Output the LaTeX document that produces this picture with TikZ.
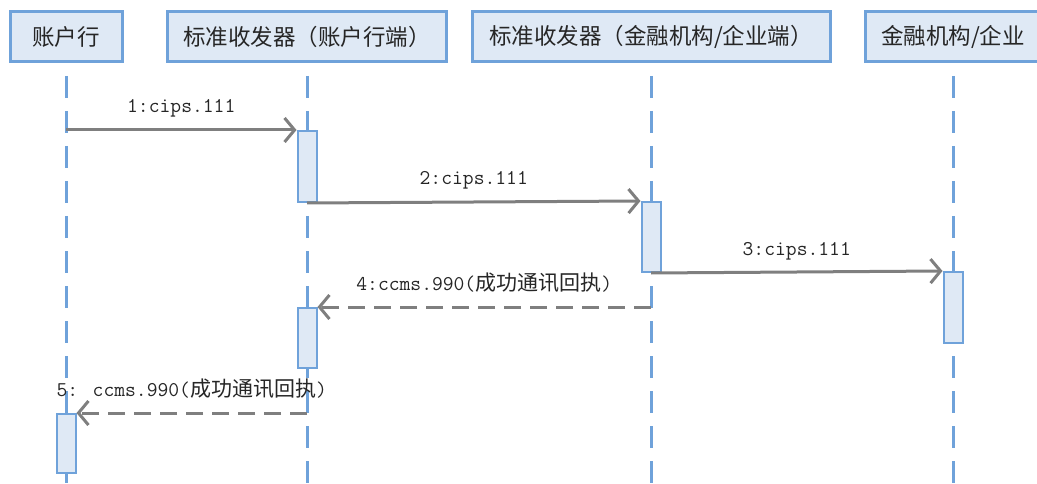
\documentclass[tikz,border=0pt]{standalone}
\usepackage{fontspec}
\setmainfont{Noto Sans CJK SC}
\newfontfamily\cjk{Noto Sans CJK SC}
\usetikzlibrary{arrows.meta}
\definecolor{lineblue}{HTML}{6FA2DA}
\definecolor{fillblue}{HTML}{DFE9F5}
\definecolor{msggray}{HTML}{7F7F7F}
\tikzset{
  header/.style={draw=lineblue, fill=fillblue, line width=3pt, minimum height=50pt, inner sep=0pt, anchor=north, font=\fontsize{22.5}{26}\selectfont, text=black!85},
  lifeline/.style={draw=lineblue, line width=3pt, dash pattern=on 22pt off 13pt},
  actbox/.style={draw=lineblue, fill=fillblue, line width=2pt, minimum width=19pt, inner sep=0pt, anchor=north},
  msg/.style={draw=msggray, line width=3pt, -{Straight Barb[length=10pt,width=24pt]}},
  reply/.style={msg, dash pattern=on 17pt off 9pt},
  msglabel/.style={midway, anchor=base, yshift=17pt, inner sep=0pt, font=\ttfamily\fontsize{21}{24}\selectfont, text=black!85}
}
\begin{document}
\begin{tikzpicture}[x=1pt,y=-1pt]
\useasboundingbox (0,0) rectangle (1037,484);
% headers
\node[header, minimum width=112pt] (h1) at (66,10) {账户行};
\node[header, minimum width=279pt] (h2) at (307,10) {标准收发器（账户行端）};
\node[header, minimum width=358pt] (h3) at (651,10) {标准收发器（金融机构/企业端）};
\node[header, minimum width=176pt] (h4) at (953,10) {金融机构/企业};
% lifeline ends
\coordinate (e1) at (66,490);
\coordinate (e2) at (307,490);
\coordinate (e3) at (651,490);
\coordinate (e4) at (953,490);
\draw[lifeline] ([yshift=-13pt]h1.south) -- (e1);
\draw[lifeline] ([yshift=-13pt]h2.south) -- (e2);
\draw[lifeline] ([yshift=-13pt]h3.south) -- (e3);
\draw[lifeline] ([yshift=-13pt]h4.south) -- (e4);
% activations
\node[actbox, minimum height=71pt] (a1) at (307,130) {};
\node[actbox, minimum height=70pt] (a2) at (651,201) {};
\node[actbox, minimum height=71pt] (a3) at (953,271) {};
\node[actbox, minimum height=60pt] (a4) at (307,307) {};
\node[actbox, minimum height=59pt] (a5) at (66,413) {};
% messages
\draw[msg] (h1 |- a1.north) -- (a1.north west) node[msglabel] {1:cips.111};
\draw[msg] (a1.south) -- (a2.north west) node[msglabel] {2:cips.111};
\draw[msg] (a2.south) -- (a3.north west) node[msglabel] {3:cips.111};
\draw[reply] (h3 |- a4.north) -- (a4.north east) node[msglabel] {4:ccms.990({\cjk 成功通讯回执})};
\draw[reply] (h2 |- a5.north) -- (a5.north east) node[msglabel] {5: ccms.990({\cjk 成功通讯回执})};
\end{tikzpicture}
\end{document}
